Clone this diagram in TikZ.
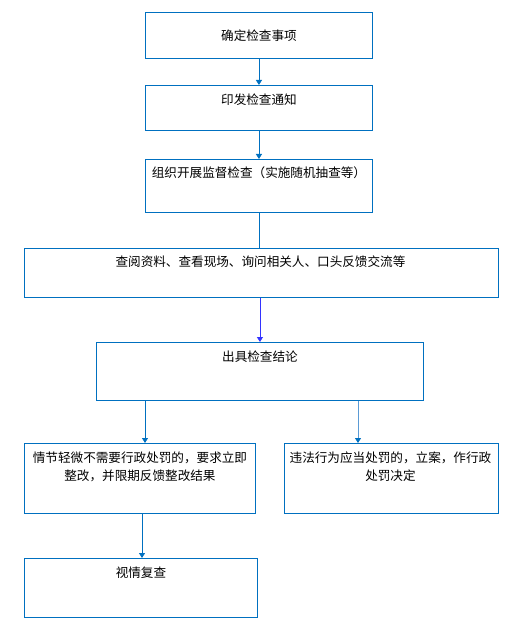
\documentclass[tikz,border=0pt]{standalone}
\usepackage{fontspec}
\setmainfont{Noto Sans CJK SC}
\definecolor{frame}{RGB}{0, 112, 192}
\definecolor{flowdeep}{RGB}{51, 51, 255}
\definecolor{flowsoft}{RGB}{91, 155, 213}
\usetikzlibrary{arrows.meta, positioning, calc}

\begin{document}
\begin{tikzpicture}[x=1pt, y=-1pt,
    box/.style={draw=frame, line width=0.9pt, inner sep=0pt, anchor=north west},
    txt/.style={inner sep=0pt, align=center, font=\fontsize{12.6}{18}\selectfont},
    link/.style={draw=frame, line width=0.9pt},
    flow/.style={link, -{Triangle[width=6pt, length=5pt]}}]
    \useasboundingbox (0,0) rectangle (527,644);
    % boxes
    \node[box, minimum width=227pt, minimum height=46pt] (b1) at (145,12) {};
    \node[box, minimum width=227pt, minimum height=45pt] (b2) at (145,85) {};
    \node[box, minimum width=227pt, minimum height=53pt] (b3) at (145,159) {};
    \node[box, minimum width=474pt, minimum height=49pt] (b4) at (24,248) {};
    \node[box, minimum width=327pt, minimum height=58pt] (b5) at (96,342) {};
    \node[box, minimum width=231pt, minimum height=70pt] (b6) at (24,443) {};
    \node[box, minimum width=214pt, minimum height=70pt] (b7) at (284,443) {};
    \node[box, minimum width=233pt, minimum height=59pt] (b8) at (24,558) {};
    % texts
    \node[txt] (t1) at (b1.center) {确定检查事项};
    \node[txt] (t2) at ($(b2.north)+(0,15)$) {印发检查通知};
    \node[txt] (t3) at ($(b3.north)+(0,14)$) {组织开展监督检查（实施随机抽查等）};
    \node[txt] (t4) at ($(b4.north)+(-1,14)$) {查阅资料、查看现场、询问相关人、口头反馈交流等};
    \node[txt] (t5) at ($(b5.north)+(0,15)$) {出具检查结论};
    \node[txt] (t6) at ($(b6.north)+(0,24)$) {情节轻微不需要行政处罚的，要求立即\\整改，并限期反馈整改结果};
    \node[txt] (t7) at ($(b7.north)+(-1,24)$) {违法行为应当处罚的，立案，作行政\\处罚决定};
    \node[txt] (t8) at ($(b8.north)+(0,15)$) {视情复查};
    % connectors
    \coordinate (j1) at (145,0);
    \coordinate (j2) at (358,0);
    \coordinate (j3) at (142,0);
    \draw[flow] (b1) -- (b2);
    \draw[flow] (b2) -- (b3);
    \draw[link] (b3.south) -- (b3.south |- b4.north);
    \draw[flow, draw=flowdeep] (b4.south -| b5.north) -- (b5.north);
    \draw[flow] (b5.south -| j1) -- (b6.north -| j1);
    \draw[link, draw=flowsoft, -{Triangle[width=6pt, length=5pt, color=frame]}] (b5.south -| j2) -- (b7.north -| j2);
    \draw[flow] (b6.south -| j3) -- (b8.north -| j3);
\end{tikzpicture}
\end{document}
